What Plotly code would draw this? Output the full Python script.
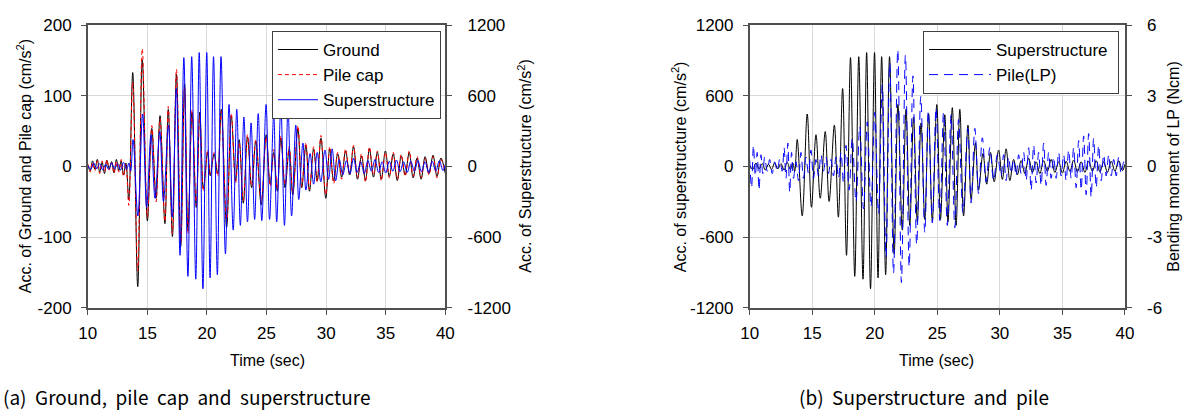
import plotly.graph_objects as go

# ---------------- data ----------------
# Ground / pile cap acceleration (cm/s^2) – shared time stamps of extremes
t_ground = [10.0, 10.2, 10.4, 10.6, 10.8, 11.0, 11.2, 11.4, 11.6, 11.8,
            12.0, 12.2, 12.4, 12.6, 12.8, 13.0, 13.2, 13.44, 13.77, 14.19,
            14.57, 15.0, 15.37, 15.73, 16.06, 16.47, 16.75, 17.1, 17.44, 17.8,
            18.12, 18.4, 18.75, 19.1, 19.4, 19.7, 20.06, 20.27, 20.6, 20.9,
            21.2, 21.65, 22.04, 22.4, 22.7, 23.05, 23.4, 23.75, 24.1, 24.55,
            24.97, 25.3, 25.6, 25.9, 26.2, 26.55, 26.9, 27.2, 27.63, 27.95,
            28.3, 28.6, 28.95, 29.25, 29.56, 29.97, 30.3, 30.63, 30.97, 31.3,
            31.63, 31.97, 32.3, 32.63, 32.97, 33.3, 33.63, 33.97, 34.3, 34.63,
            34.97, 35.3, 35.63, 35.97, 36.3, 36.63, 36.97, 37.3, 37.63, 37.97,
            38.3, 38.63, 38.97, 39.3, 39.63, 40.0]
v_ground = [2, -6, 8, -4, 10, -8, 6, -10, 9, -3,
            7, -9, 10, -6, 8, -12, 5, -47, 133, -170,
            151, -77, 54, -45, 72, -81, 81, -99, 131, -113,
            117, -90, 77, -58, 77, -31, 20, -13, 18, -10,
            81, -86, 72, -20, 38, -52, 42, -30, 36, -54,
            45, -25, 20, -35, 40, -30, 25, -40, 54, -30,
            30, -35, 25, -20, 40, -45, 25, -20, 18, -15,
            22, -12, 28, -18, 15, -20, 25, -15, 20, -18,
            22, -14, 18, -20, 15, -12, 20, -16, 12, -18,
            14, -10, 16, -14, 12, -10]
v_pilecap = [4, -8, 6, -6, 8, -10, 8, -8, 10, -5,
             5, -10, 8, -8, 10, -14, 3, -55, 120, -148,
             167, -72, 58, -50, 68, -78, 85, -95, 138, -108,
             112, -95, 80, -55, 72, -35, 24, -10, 20, -14,
             78, -80, 75, -24, 34, -48, 45, -28, 38, -50,
             42, -28, 24, -32, 44, -26, 28, -38, 58, -28,
             34, -32, 28, -22, 44, -40, 28, -24, 20, -18,
             25, -10, 30, -16, 18, -22, 28, -12, 22, -20,
             20, -16, 20, -18, 17, -14, 22, -14, 14, -16,
             12, -12, 14, -16, 10, -8]

# Superstructure acceleration (cm/s^2)
t_super = [10.0, 10.25, 10.5, 10.75, 11.0, 11.25, 11.5, 11.75, 12.0, 12.25,
           12.5, 12.75, 13.0, 13.25, 13.45, 13.6, 13.8, 14.2, 14.6, 14.94,
           15.3, 15.64, 16.04, 16.35, 16.77, 17.09, 17.43, 17.74, 18.06, 18.4,
           18.72, 19.06, 19.35, 19.66, 19.98, 20.26, 20.55, 20.87, 21.18, 21.55,
           21.85, 22.2, 22.5, 22.8, 23.1, 23.4, 23.7, 24.0, 24.3, 24.6,
           24.96, 25.25, 25.6, 25.85, 26.2, 26.5, 26.8, 27.1, 27.45, 27.7,
           28.05, 28.3, 28.65, 28.95, 29.25, 29.55, 29.9, 30.2, 30.5, 30.8,
           31.1, 31.4, 31.7, 32.0, 32.3, 32.6, 32.9, 33.2, 33.5, 33.8,
           34.1, 34.4, 34.7, 35.0, 35.3, 35.6, 35.9, 36.2, 36.5, 36.8,
           37.1, 37.4, 37.7, 38.0, 38.3, 38.6, 38.9, 39.2, 39.5, 39.8,
           40.0]
v_super = [10, -25, 30, -20, 25, -30, 20, -25, 30, -20,
           25, -30, 35, -25, 30, -40, 230, -419, 446, -346,
           270, -270, 297, -297, 351, -430, 662, -754, 925, -933,
           933, -957, 968, -1038, 968, -946, 933, -919, 933, -743,
           527, -540, 487, -500, 420, -470, 370, -450, 450, -460,
           527, -450, 440, -470, 500, -500, 487, -420, 351, -280,
           200, -200, 110, -150, 120, -130, 140, -110, 150, -120,
           60, -70, 50, -60, 70, -50, 40, -60, 50, -40,
           60, -50, 40, -55, 45, -40, 55, -45, 40, -50,
           45, -40, 50, -45, 40, -50, 45, -40, 50, -35,
           20]

# Bending moment of pile LP (Ncm)
t_pile = [10.0, 10.15, 10.3, 10.45, 10.6, 10.75, 10.9, 11.05, 11.2, 11.4,
          11.6, 11.8, 12.0, 12.2, 12.4, 12.6, 12.75, 12.9, 13.05, 13.2,
          13.35, 13.5, 13.7, 13.9, 14.1, 14.3, 14.5, 14.7, 14.9, 15.1,
          15.3, 15.5, 15.7, 15.9, 16.1, 16.3, 16.5, 16.7, 16.9, 17.1,
          17.3, 17.5, 17.7, 17.95, 18.2, 18.5, 18.8, 19.1, 19.4, 19.7,
          20.0, 20.3, 20.6, 20.9, 21.2, 21.5, 21.84, 22.13, 22.45, 22.75,
          23.05, 23.35, 23.68, 24.0, 24.28, 24.6, 24.9, 25.2, 25.5, 25.8,
          26.1, 26.4, 26.7, 27.05, 27.43, 27.7, 28.0, 28.3, 28.6, 28.9,
          29.2, 29.5, 29.8, 30.1, 30.3, 30.5, 30.7, 30.9, 31.1, 31.3,
          31.5, 31.7, 31.9, 32.1, 32.3, 32.5, 32.7, 32.9, 33.1, 33.3,
          33.5, 33.7, 33.9, 34.1, 34.3, 34.5, 34.7, 34.9, 35.1, 35.3,
          35.5, 35.7, 35.9, 36.1, 36.3, 36.5, 36.7, 36.9, 37.1, 37.3,
          37.5, 37.7, 37.9, 38.1, 38.3, 38.5, 38.7, 38.9, 39.1, 39.3,
          39.5, 39.7, 39.9, 40.0]
v_pile = [0.3, -0.9, 0.9, -0.4, 0.6, -1.0, 0.5, -0.3, 0.4, -0.2,
          0.3, -0.3, 0.2, -0.2, 0.3, -0.2, 0.8, -0.5, 1.0, -1.1,
          0.6, -0.5, 0.2, -0.6, 0.6, -0.5, 0.4, -0.3, 0.7, -0.5,
          0.3, -0.4, 0.5, -0.2, 0.4, -0.3, 0.3, -0.4, 0.4, -0.5,
          0.6, -0.7, 0.9, -1.0, 1.2, -1.5, 1.7, -1.8, 1.9, -1.7,
          2.3, -2.0, 3.45, -3.85, 4.4, -4.53, 4.96, -4.93, 4.73, -4.26,
          3.85, -3.31, 2.97, -2.8, 2.36, -2.4, 2.5, -2.3, 2.3, -2.5,
          2.2, -2.6, 2.0, -1.95, 1.62, -1.55, 1.62, -1.15, 1.22, -0.66,
          0.8, -0.6, 0.5, -0.4, 0.5, -0.6, 0.4, -0.3, 0.3, -0.4,
          0.5, -0.3, 0.6, -0.6, 0.8, -1.0, 0.9, -0.7, 0.6, -0.8,
          1.0, -0.8, 0.6, -0.5, 0.4, -0.5, 0.6, -0.4, 0.5, -0.6,
          0.7, -0.5, 0.8, -0.9, 1.1, -1.0, 1.3, -1.2, 1.4, -1.3,
          1.2, -0.9, 0.9, -0.6, 0.5, -0.4, 0.5, -0.4, 0.3, -0.4,
          0.4, -0.3, 0.2, 0.0]

x_ticks = [10, 15, 20, 25, 30, 35, 40]
left_ticks = [-200, -100, 0, 100, 200]
acc_ticks = [-1200, -600, 0, 600, 1200]
moment_ticks = [-6, -3, 0, 3, 6]

# ---------------- figure ----------------
W, H = 1196, 419
FONT = "Liberation Sans"
fig = go.Figure()

fig.add_trace(go.Scatter(x=t_ground, y=v_ground, name="Ground", mode="lines",
                         line=dict(color="black", width=1, shape="spline"),
                         xaxis="x", yaxis="y", legend="legend", legendgroup="g1"))
fig.add_trace(go.Scatter(x=t_ground, y=v_pilecap, name="Pile cap", mode="lines",
                         line=dict(color="#ff0000", width=1, dash="4px,3px", shape="spline"),
                         xaxis="x", yaxis="y", legend="legend", legendgroup="g2"))
fig.add_trace(go.Scatter(x=t_super, y=v_super, name="Superstructure", mode="lines",
                         line=dict(color="#0000ff", width=1, shape="spline"),
                         xaxis="x", yaxis="y2", legend="legend", legendgroup="g3"))
fig.add_trace(go.Scatter(x=t_super, y=v_super, name="Superstructure ", mode="lines",
                         line=dict(color="black", width=1, shape="spline"),
                         xaxis="x2", yaxis="y3", legend="legend2", legendgroup="g4"))
fig.add_trace(go.Scatter(x=t_pile, y=v_pile, name="Pile(LP)", mode="lines",
                         line=dict(color="#0000ff", width=1, dash="9px,6px", shape="spline"),
                         xaxis="x2", yaxis="y4", legend="legend2", legendgroup="g5"))

def px_x(p):
    return p / W

def px_y(p):
    return 1 - p / H

def labels(vals):
    return [str(v) for v in vals]

ydom = [px_y(313), px_y(17)]
grid = "#d9d9d9"
axc = "#505050"
tickfont = dict(family=FONT, size=17, color="black")

common_x = dict(range=[10, 40], tickvals=x_ticks, ticktext=labels(x_ticks),
                showgrid=True, gridcolor=grid,
                showline=True, linecolor=axc, linewidth=1.5, mirror=True,
                ticks="outside", ticklen=5, tickcolor=axc, tickfont=tickfont,
                zeroline=False, ticklabelstandoff=4)
common_y = dict(showline=True, linecolor=axc, linewidth=1.5, ticks="outside",
                ticklen=5, tickcolor=axc, tickfont=tickfont, zeroline=False,
                domain=ydom)

fig.update_layout(
    width=W, height=H, margin=dict(l=0, r=0, t=0, b=0),
    paper_bgcolor="white", plot_bgcolor="white",
    font=dict(family=FONT, size=16, color="black"),
    xaxis=dict(domain=[px_x(80), px_x(443)], anchor="y", **common_x),
    yaxis=dict(range=[-200, 200], tickvals=left_ticks, ticktext=labels(left_ticks),
               showgrid=True, gridcolor=grid,
               anchor="x", side="left", ticklabelstandoff=6, **common_y),
    yaxis2=dict(range=[-1200, 1200], tickvals=acc_ticks, ticktext=labels(acc_ticks),
                showgrid=False,
                overlaying="y", anchor="x", side="right", ticklabelstandoff=12, **common_y),
    xaxis2=dict(domain=[px_x(752), px_x(1133)], anchor="y3", **common_x),
    yaxis3=dict(range=[-1200, 1200], tickvals=acc_ticks, ticktext=labels(acc_ticks),
                showgrid=True, gridcolor=grid,
                anchor="x2", side="left", ticklabelstandoff=6, **common_y),
    yaxis4=dict(range=[-6, 6], tickvals=moment_ticks, ticktext=labels(moment_ticks),
                showgrid=False,
                overlaying="y3", anchor="x2", side="right", ticklabelstandoff=12, **common_y),
    legend=dict(x=px_x(267), y=px_y(23), xanchor="left", yanchor="top",
                bgcolor="white", bordercolor="#404040", borderwidth=1,
                font=dict(family=FONT, size=17), tracegroupgap=0, itemwidth=40),
    legend2=dict(x=px_x(928), y=px_y(23), xanchor="left", yanchor="top",
                 bgcolor="white", bordercolor="#404040", borderwidth=1,
                 font=dict(family=FONT, size=17), tracegroupgap=0, itemwidth=62),
    showlegend=True,
)

ann_font = dict(family=FONT, size=16, color="black")
annotations = [
    dict(text="Time (sec)", x=px_x(262), y=px_y(368)),
    dict(text="Time (sec)", x=px_x(942), y=px_y(368)),
    dict(text="Acc. of Ground and Pile cap (cm/s<sup>2</sup>)", x=px_x(15), y=px_y(165), textangle=-90),
    dict(text="Acc. of Superstructure (cm/s<sup>2</sup>)", x=px_x(523), y=px_y(165), textangle=-90),
    dict(text="Acc. of superstructure (cm/s<sup>2</sup>)", x=px_x(680), y=px_y(165), textangle=-90),
    dict(text="Bending moment of LP (Ncm)", x=px_x(1182), y=px_y(165), textangle=-90),
]
for a in annotations:
    fig.add_annotation(xref="paper", yref="paper", showarrow=False,
                       xanchor="center", yanchor="middle", font=ann_font, **a)

cap_font = dict(family="Noto Sans CJK KR", size=19, color="black")
fig.add_annotation(text="(a)  Ground,  pile  cap  and  superstructure", x=px_x(180), y=px_y(406),
                   xref="paper", yref="paper", showarrow=False, xanchor="center",
                   yanchor="middle", font=cap_font)
fig.add_annotation(text="(b)  Superstructure  and  pile", x=px_x(929), y=px_y(406),
                   xref="paper", yref="paper", showarrow=False, xanchor="center",
                   yanchor="middle", font=cap_font)

fig.write_html("out.html")
